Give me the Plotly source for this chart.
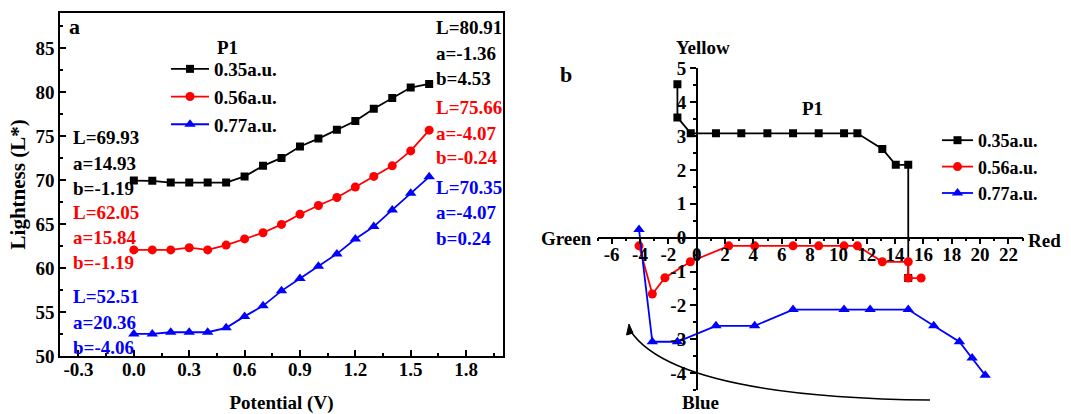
import plotly.graph_objects as go

W, H = 1071, 414

# ---------------- data ----------------
potential = [0.0, 0.1, 0.2, 0.3, 0.4, 0.5, 0.6, 0.7, 0.8, 0.9, 1.0, 1.1, 1.2, 1.3, 1.4, 1.5, 1.6]
L_035 = [69.93, 69.9, 69.7, 69.7, 69.7, 69.7, 70.4, 71.6, 72.5, 73.8, 74.7, 75.7, 76.7, 78.1, 79.3, 80.5, 80.91]
L_056 = [62.05, 62.05, 62.05, 62.3, 62.05, 62.6, 63.3, 64.0, 64.95, 66.1, 67.1, 68.0, 69.2, 70.4, 71.6, 73.3, 75.66]
L_077 = [52.51, 52.51, 52.7, 52.7, 52.7, 53.2, 54.5, 55.7, 57.4, 58.8, 60.2, 61.6, 63.3, 64.7, 66.6, 68.5, 70.35]

a_035 = [14.93, 14.93, 14.05, 13.1, 11.34, 10.4, 8.61, 6.8, 4.99, 3.15, 1.36, -0.42, -1.36, -1.36]
b_035 = [-1.19, 2.15, 2.15, 2.62, 3.08, 3.08, 3.08, 3.08, 3.08, 3.08, 3.08, 3.08, 3.55, 4.53]
a_056 = [15.84, 14.93, 14.93, 13.1, 11.34, 10.4, 8.61, 6.8, 4.09, 2.26, -0.45, -2.24, -3.13, -4.07]
b_056 = [-1.19, -1.19, -0.71, -0.71, -0.24, -0.24, -0.24, -0.24, -0.24, -0.24, -0.71, -1.18, -1.66, -0.24]
a_077 = [20.36, 19.44, 18.54, 16.73, 14.93, 12.24, 10.4, 6.8, 4.09, 1.36, -1.36, -3.13, -4.07]
b_077 = [-4.06, -3.55, -3.07, -2.6, -2.12, -2.12, -2.12, -2.12, -2.6, -2.6, -3.07, -3.07, 0.24]

series_names = ["0.35a.u.", "0.56a.u.", "0.77a.u."]

x1_tickvals = [-0.3, 0.0, 0.3, 0.6, 0.9, 1.2, 1.5, 1.8]
x1_ticktext = ["-0.3", "0.0", "0.3", "0.6", "0.9", "1.2", "1.5", "1.8"]
y1_tickvals = [50, 55, 60, 65, 70, 75, 80, 85]
x2_tickvals = [-6, -4, -2, 0, 2, 4, 6, 8, 10, 12, 14, 16, 18, 20, 22]
x2_ticktext = ["-6", "-4", "-2", "0", "2", "4", "6", "8", "10", "12", "14", "16", "18", "20", "22"]
y2_tickvals = [-4, -3, -2, -1, 0, 1, 2, 3, 4, 5]
y2_ticktext = ["-4", "-3", "-2", "-1", "0", "1", "2", "3", "4", "5"]

left_notes = [("L=69.93", 138, "black"), ("a=14.93", 163, "black"), ("b=-1.19", 188, "black"),
              ("L=62.05", 212, "red"), ("a=15.84", 237, "red"), ("b=-1.19", 262, "red"),
              ("L=52.51", 296, "blue"), ("a=20.36", 322, "blue"), ("b=-4.06", 347, "blue")]
right_notes = [("L=80.91", 28, "black"), ("a=-1.36", 53, "black"), ("b=4.53", 79, "black"),
               ("L=75.66", 107, "red"), ("a=-4.07", 133, "red"), ("b=-0.24", 158, "red"),
               ("L=70.35", 187, "blue"), ("a=-4.07", 213, "blue"), ("b=0.24", 238, "blue")]

# ---------------- helpers ----------------
def fx(x):
    return x / W

def fy(y):
    return 1 - y / H

FONT = "Liberation Serif"
colors = ["#000000", "#ff0000", "#0000ff"]
symbols = ["square", "circle", "triangle-up"]
msizes = [8, 9, 10]

fig = go.Figure()

for name, yv, c, s, ms in zip(series_names, [L_035, L_056, L_077], colors, symbols, msizes):
    fig.add_trace(go.Scatter(x=potential, y=yv, mode="lines+markers", name=name,
                             line=dict(color=c, width=1.8), marker=dict(symbol=s, size=ms, color=c),
                             xaxis="x", yaxis="y", legend="legend"))

for name, av, bv, c, s, ms in zip(series_names, [a_035, a_056, a_077], [b_035, b_056, b_077],
                                  colors, symbols, msizes):
    fig.add_trace(go.Scatter(x=av, y=bv, mode="lines+markers", name=name,
                             line=dict(color=c, width=1.8), marker=dict(symbol=s, size=ms, color=c),
                             xaxis="x2", yaxis="y2", legend="legend2"))

tickfont = dict(family=FONT, size=19, color="black", weight="bold")

fig.update_layout(
    width=W, height=H,
    margin=dict(l=0, r=0, t=0, b=0),
    paper_bgcolor="white", plot_bgcolor="white",
    font=dict(family=FONT, size=19, color="black", weight="bold"),
    xaxis=dict(domain=[fx(60), fx(503)], range=[-0.4, 2.0], anchor="y",
               tickmode="array", tickvals=x1_tickvals, ticktext=x1_ticktext,
               ticks="inside", ticklen=6, tickwidth=1.5, tickcolor="black", ticklabelstandoff=-5,
               minor=dict(dtick=0.15, tick0=-0.3, ticks="inside", ticklen=3, tickwidth=1.5, tickcolor="black"),
               showline=True, linecolor="black", linewidth=1.5, mirror=True,
               showgrid=False, zeroline=False, tickfont=tickfont,
               title=dict(text="Potential (V)", font=dict(family=FONT, size=19, weight="bold"), standoff=17),
               automargin=False),
    yaxis=dict(domain=[fy(356), fy(12.7)], range=[50, 89], anchor="x",
               tickmode="array", tickvals=y1_tickvals,
               ticks="inside", ticklen=6, tickwidth=1.5, tickcolor="black",
               minor=dict(dtick=2.5, tick0=50, ticks="inside", ticklen=3, tickwidth=1.5, tickcolor="black"),
               showline=True, linecolor="black", linewidth=1.5, mirror=True,
               showgrid=False, zeroline=False, tickfont=tickfont,
               title=dict(text="Lightness (L*)", font=dict(family=FONT, size=21, weight="bold"), standoff=4),
               automargin=False),
    xaxis2=dict(domain=[fx(597.5), fx(1022.6)], range=[-7, 23], anchor="free", position=fy(237.7),
                tickmode="array", tickvals=x2_tickvals, ticktext=x2_ticktext,
                ticks="outside", ticklen=6, tickwidth=1.5, tickcolor="black", ticklabelstandoff=-6,
                minor=dict(dtick=1, tick0=0, ticks="outside", ticklen=3, tickwidth=1.5, tickcolor="black"),
                showline=True, linecolor="black", linewidth=1.5,
                showgrid=False, zeroline=False, tickfont=tickfont, automargin=False),
    yaxis2=dict(domain=[fy(390.2), fy(68.3)], range=[-4.5, 5], anchor="free", position=fx(696.7),
                tickmode="array", tickvals=y2_tickvals, ticktext=y2_ticktext,
                ticks="outside", ticklen=6, tickwidth=1.5, tickcolor="black",
                minor=dict(dtick=0.5, tick0=0, ticks="outside", ticklen=3, tickwidth=1.5, tickcolor="black"),
                showline=True, linecolor="black", linewidth=1.5,
                showgrid=False, zeroline=False, tickfont=tickfont, automargin=False),
    legend=dict(x=fx(166), y=fy(50), xanchor="left", yanchor="top",
                bgcolor="rgba(0,0,0,0)", font=dict(family=FONT, size=19, weight="bold"),
                itemwidth=38, tracegroupgap=0),
    legend2=dict(x=fx(937), y=fy(122), xanchor="left", yanchor="top",
                 bgcolor="rgba(0,0,0,0)", font=dict(family=FONT, size=18, weight="bold"),
                 itemwidth=31, tracegroupgap=0),
)

ann = []
def text(t, x, y, color="black", size=19, xanchor="left", angle=0):
    ann.append(dict(text=t, x=fx(x), y=fy(y), xref="paper", yref="paper", showarrow=False,
                    xanchor=xanchor, yanchor="middle", textangle=angle,
                    font=dict(family=FONT, size=size, color=color, weight="bold")))

for t, y, c in left_notes:
    text(t, 71, y, c)
for t, y, c in right_notes:
    text(t, 434, y, c)
text("a", 74, 27, size=22, xanchor="center")
text("P1", 227, 47, xanchor="center")
text("b", 566, 74, size=22, xanchor="center")
text("P1", 812, 108, xanchor="center")
text("Yellow", 703, 47, xanchor="center")
text("Green", 594, 238, xanchor="right")
text("Red", 1026, 240, xanchor="left")
text("Blue", 700, 402, xanchor="center")
fig.update_layout(annotations=ann)

# curved arrow in panel b
def P(x, y):
    return f"{fx(x):.5f},{fy(y):.5f}"

fig.add_shape(type="path", xref="paper", yref="paper",
              path=f"M {P(630.5, 331)} Q {P(675, 397)} {P(930, 400)}",
              line=dict(color="black", width=1.5))
fig.add_shape(type="path", xref="paper", yref="paper",
              path=f"M {P(629, 324)} L {P(626.5, 335)} L {P(633, 333)} Z",
              line=dict(color="black", width=1), fillcolor="black")

fig.write_html("out.html", config={"displayModeBar": False},
               post_script="document.body.style.margin='0px';document.body.style.overflow='hidden';")
